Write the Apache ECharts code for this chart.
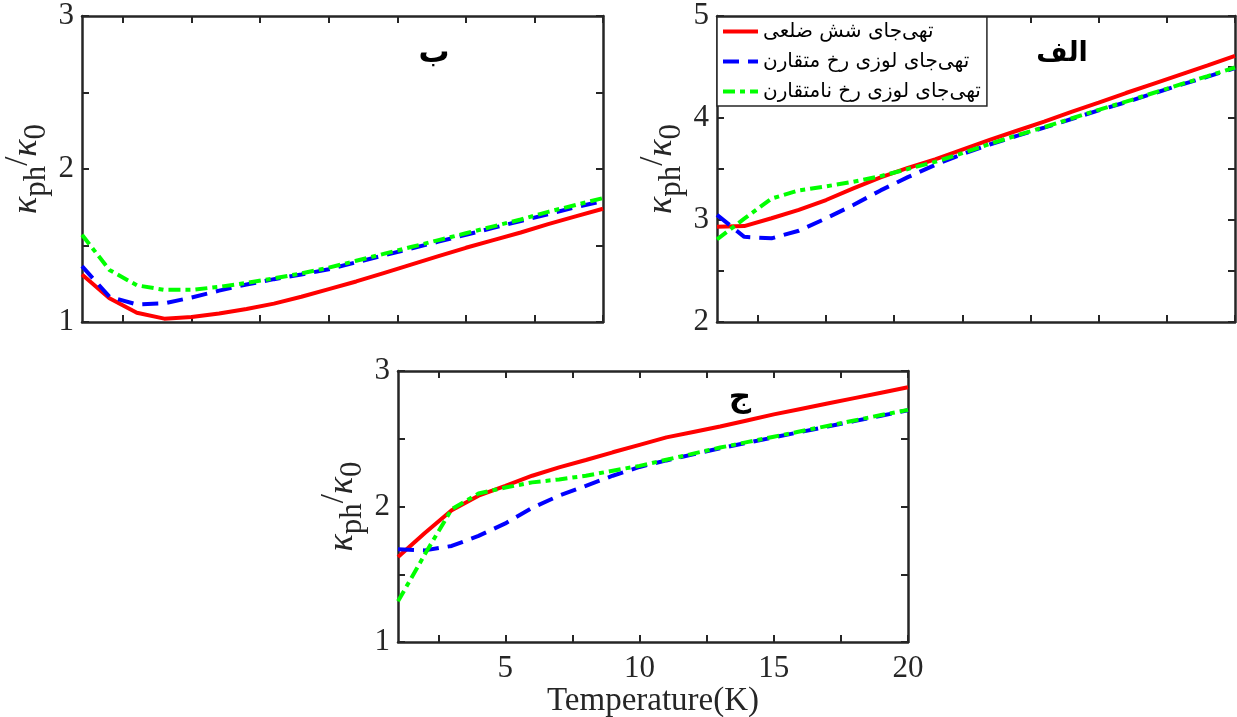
<!DOCTYPE html>
<html><head><meta charset="utf-8">
<script src="https://cdn.jsdelivr.net/npm/echarts@6/dist/echarts.min.js"></script>
<style>html,body{margin:0;padding:0;background:#fff}#c{width:1237px;height:717px}</style>
</head><body><div id="c"></div>
<script>
// ---- data ----
const temperature = [1,2,3,4,5,6,7,8,9,10,11,12,13,14,15,16,17,18,19,20];
const seriesNames = ['تهی\u200cجای شش ضلعی','تهی\u200cجای لوزی رخ متقارن','تهی\u200cجای لوزی رخ نامتقارن'];
const panelLabels = ['ب','الف','ج'];
const xTickValues = [2.5,5,7.5,10,12.5,15,17.5,20];
const xLabelValues = [5,10,15,20];
const yTicksLow = [1,1.5,2,2.5,3];
const yLabelsLow = [1,2,3];
const yTicksHigh = [2,2.5,3,3.5,4,4.5,5];
const yLabelsHigh = [2,3,4,5];
const xAxisTitle = 'Temperature(K)';

// panel ب (top-left)
const beHex   = [1.31,1.155,1.06,1.022,1.032,1.055,1.085,1.12,1.165,1.215,1.265,1.32,1.375,1.43,1.485,1.535,1.585,1.64,1.69,1.74];
const beSym   = [1.365,1.165,1.115,1.122,1.16,1.205,1.245,1.28,1.31,1.345,1.39,1.435,1.48,1.525,1.57,1.615,1.66,1.705,1.75,1.79];
const beAsym  = [1.57,1.34,1.24,1.21,1.21,1.23,1.255,1.285,1.318,1.355,1.40,1.445,1.49,1.535,1.58,1.625,1.67,1.72,1.765,1.81];
// panel الف (top-right)
const alefHex  = [2.935,2.94,3.017,3.10,3.196,3.31,3.418,3.51,3.595,3.69,3.785,3.875,3.965,4.06,4.15,4.245,4.335,4.425,4.515,4.61];
const alefSym  = [3.05,2.835,2.82,2.895,3.016,3.147,3.29,3.42,3.54,3.645,3.74,3.825,3.905,3.99,4.075,4.155,4.24,4.325,4.405,4.49];
const alefAsym = [2.81,3.013,3.21,3.29,3.33,3.375,3.43,3.50,3.57,3.655,3.745,3.83,3.91,3.995,4.08,4.16,4.245,4.33,4.41,4.495];
// panel ج (bottom)
const jimHex  = [1.627,1.805,1.973,2.08,2.153,2.227,2.289,2.343,2.40,2.455,2.51,2.55,2.59,2.635,2.68,2.72,2.76,2.80,2.84,2.88];
const jimSym  = [1.684,1.676,1.709,1.783,1.875,1.99,2.08,2.153,2.227,2.292,2.34,2.385,2.43,2.47,2.51,2.55,2.59,2.63,2.67,2.71];
const jimAsym = [1.30,1.647,1.98,2.096,2.14,2.178,2.20,2.227,2.264,2.30,2.345,2.39,2.435,2.475,2.515,2.555,2.595,2.635,2.675,2.713];

// ---- chart ----
const AX = '#262626';
const SERIF = '"Liberation Serif","DejaVu Serif",serif';
const colors = ['#ff0000','#0000ff','#00ff00'];
const dashes = ['solid',[16,9],[12,5,5,5]];

const grids = [
  {left:82, top:16, width:521, height:306, outerBoundsMode:'none', containLabel:false},
  {left:717, top:16, width:518, height:306, outerBoundsMode:'none', containLabel:false},
  {left:398, top:371, width:510, height:271, outerBoundsMode:'none', containLabel:false}
];
const yRanges = [[1,3,yTicksLow,yLabelsLow],[2,5,yTicksHigh,yLabelsHigh],[1,3,yTicksLow,yLabelsLow]];

const xAxes = [], yAxes = [];
grids.forEach((g,i)=>{
  const showX = i===2;
  [['bottom',true],['top',false]].forEach(([pos,main])=>{
    xAxes.push({
      type:'value', gridIndex:i, position:pos, min:1, max:20,
      axisLine:{show:true,onZero:false,lineStyle:{color:AX,width:2.5}},
      axisTick:{show:true,inside:true,length:7,customValues:xTickValues,lineStyle:{color:AX,width:2}},
      axisLabel:{show:main&&showX,customValues:xLabelValues,margin:11,fontFamily:SERIF,fontSize:31,color:AX},
      splitLine:{show:false},
      name: main&&showX ? xAxisTitle : '',
      nameLocation:'middle', nameGap:33,
      nameTextStyle:{fontFamily:SERIF,fontSize:33,color:AX}
    });
  });
  const [mn,mx,tk,lb] = yRanges[i];
  [['left',true],['right',false]].forEach(([pos,main])=>{
    yAxes.push({
      type:'value', gridIndex:i, position:pos, min:mn, max:mx, interval:0.5,
      axisLine:{show:true,onZero:false,lineStyle:{color:AX,width:2.5}},
      axisTick:{show:true,inside:true,length:7,customValues:tk,lineStyle:{color:AX,width:2}},
      axisLabel:{show:main,customValues:lb,margin:8,fontFamily:SERIF,fontSize:31,color:AX},
      splitLine:{show:false},
      name: main ? '{k|κ}{s|ph}{sl|/}{k|κ}{s|0}' : '',
      nameLocation:'middle', nameRotate:90, nameGap:30,
      nameTextStyle:{
        color:AX,
        rich:{
          k:{fontFamily:SERIF,fontStyle:'italic',fontSize:36,lineHeight:50,verticalAlign:'middle',color:AX},
          s:{fontFamily:SERIF,fontSize:31,lineHeight:31,verticalAlign:'bottom',color:AX},
          sl:{fontFamily:SERIF,fontSize:33,lineHeight:33,verticalAlign:'top',color:AX}
        }
      }
    });
  });
});

const panelData = [[beHex,beSym,beAsym],[alefHex,alefSym,alefAsym],[jimHex,jimSym,jimAsym]];
const series = [];
panelData.forEach((set,gi)=>{
  set.forEach((vals,si)=>{
    series.push({
      type:'line', name:seriesNames[si], xAxisIndex:2*gi, yAxisIndex:2*gi,
      data: temperature.map((t,k)=>[t,vals[k]]),
      symbol:'none', smooth:false, animation:false, z:2+si,
      lineStyle:{color:colors[si],width:4,type:dashes[si]},
      itemStyle:{color:colors[si]}
    });
  });
});

const labelPos = [[434,54],[1062,54],[740,398]];
const labelSize = [31,27,31];
const graphic = panelLabels.map((t,i)=>({
  type:'text', x:labelPos[i][0], y:labelPos[i][1], z:10,
  style:{text:t, font:'bold '+labelSize[i]+'px "DejaVu Sans"', fill:'#000', align:'center', verticalAlign:'middle'}
}));

const chart = echarts.init(document.getElementById('c'), null, {renderer:'canvas'});
chart.setOption({
  animation:false,
  backgroundColor:'#fff',
  grid:grids,
  xAxis:xAxes,
  yAxis:yAxes,
  series:series,
  graphic:graphic,
  legend:{
    data:seriesNames, orient:'vertical', left:717, top:17,
    itemWidth:35, itemHeight:14, itemGap:9,
    padding:[4,6,4,4],
    borderColor:AX, borderWidth:1.5, backgroundColor:'#fff',
    itemStyle:{opacity:0},
    lineStyle:{width:4},
    textStyle:{fontFamily:'"DejaVu Sans"',fontSize:20,color:'#000',lineHeight:21},
    z:20
  }
});
</script></body></html>
